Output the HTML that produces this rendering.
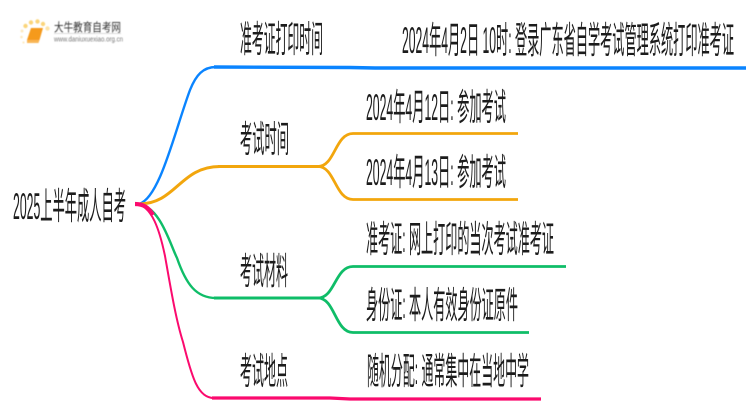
<!DOCTYPE html>
<html lang="zh">
<head>
<meta charset="utf-8">
<style>
html,body{margin:0;padding:0;background:#fff;width:750px;height:410px;overflow:hidden}
svg{display:block}
text{font-family:"Liberation Sans","Noto Sans CJK SC",sans-serif;fill:#1a1a1a}
</style>
</head>
<body>
<svg width="750" height="410" viewBox="0 0 750 410" xmlns="http://www.w3.org/2000/svg">
<rect width="750" height="410" fill="#fff"/>
<defs>
<filter id="b" x="-5%" y="-5%" width="110%" height="110%"><feGaussianBlur stdDeviation="0.35"/></filter>
<filter id="l" x="-5%" y="-5%" width="110%" height="110%"><feGaussianBlur stdDeviation="0.5"/></filter>
</defs>

<!-- logo -->
<g filter="url(#l)">
  <g fill="#fbd57a">
    <circle cx="47.5" cy="28.5" r="2.2" fill="#fde3a8"/>
    <circle cx="25.5" cy="26" r="2.2"/>
    <circle cx="31" cy="22.5" r="2.2"/>
    <circle cx="37.5" cy="21.5" r="2.2"/>
    <circle cx="43" cy="24" r="2.2"/>
    <circle cx="22" cy="31" r="1.5" fill="#fdeac0"/>
    <circle cx="21.5" cy="37" r="1.3" fill="#fdeac0"/>
    <circle cx="23.5" cy="42.5" r="1.1" fill="#fdeac0"/>
  </g>
  <path d="M31 28 L43 28 L39.5 40 L27 40 Z" fill="#f59a1b"/>
  <path d="M27 40 L39.5 40 L38.5 43 L27 43 Z" fill="#f9b655"/>
  <text x="54" y="31.5" font-size="12" textLength="67" lengthAdjust="spacingAndGlyphs" style="fill:#333">大牛教育自考网</text>
  <rect x="54" y="33" width="67" height="1" fill="#dcdcdc"/>
  <text x="54" y="41.5" font-size="7" textLength="69" lengthAdjust="spacingAndGlyphs" style="fill:#777">www.daniuxuexiao.org.cn</text>
</g>

<!-- connectors -->
<g fill="none" stroke-linecap="butt">
  <!-- blue -->
  <path d="M139 204 C160 198,175 130,190 90 C196 75,203 67,216 67" stroke="#0a84ff" stroke-width="2.4"/>
  <path d="M214 67 L350 67.5 L375 68 L746 68" stroke="#0a84ff" stroke-width="3.4"/>
  <!-- orange -->
  <path d="M139 204 C176 204,180 166.5,220 166.5" stroke="#f2a60d" stroke-width="3"/>
  <path d="M218 166.5 L320 166.5" stroke="#f2a60d" stroke-width="3"/>
  <path d="M318 166.5 C335 166.5,335 133.5,353 133.5 L518 133.5" stroke="#f2a60d" stroke-width="2.8"/>
  <path d="M318 166.5 C335 166.5,335 199.5,353 199.5 L518 199.5" stroke="#f2a60d" stroke-width="2.8"/>
  <!-- green -->
  <path d="M138 204 C160 206,170 244,177 258 C186 284,196 298,216 298" stroke="#0fbd68" stroke-width="2.4"/>
  <path d="M214 298 L320 298" stroke="#0fbd68" stroke-width="3"/>
  <path d="M318 298 C335 298,335 266.5,353 266.5 L566 266.5" stroke="#0fbd68" stroke-width="2.8"/>
  <path d="M318 298 C335 298,335 332.5,353 332.5 L529 332.5" stroke="#0fbd68" stroke-width="2.8"/>
  <!-- pink -->
  <path d="M135 204 C152 204,160 232,165 256 C171 290,176 320,183 342 C192 378,198 398,214 398" stroke="#fb0a6e" stroke-width="2"/>
  <path d="M212 398 L330 398 L350 399 L541 399" stroke="#fb0a6e" stroke-width="3.2"/>
  <path d="M135 204 C144 204,149 208,153 215" stroke="#fb0a6e" stroke-width="4.2"/>
</g>

<!-- labels -->
<g font-size="37" filter="url(#b)">
  <text x="13" y="219" textLength="113" lengthAdjust="spacingAndGlyphs">2025上半年成人自考</text>
  <text x="240" y="52" textLength="83" lengthAdjust="spacingAndGlyphs">准考证打印时间</text>
  <text x="402" y="53" textLength="332" lengthAdjust="spacingAndGlyphs">2024年4月2日 10时: 登录广东省自学考试管理系统打印准考证</text>
  <text x="240" y="152" textLength="49" lengthAdjust="spacingAndGlyphs">考试时间</text>
  <text x="366" y="120" textLength="140" lengthAdjust="spacingAndGlyphs">2024年4月12日: 参加考试</text>
  <text x="366" y="185" textLength="140" lengthAdjust="spacingAndGlyphs">2024年4月13日: 参加考试</text>
  <text x="240" y="284" textLength="48" lengthAdjust="spacingAndGlyphs">考试材料</text>
  <text x="366" y="252" textLength="188" lengthAdjust="spacingAndGlyphs">准考证: 网上打印的当次考试准考证</text>
  <text x="366" y="318" textLength="152" lengthAdjust="spacingAndGlyphs">身份证: 本人有效身份证原件</text>
  <text x="240" y="384" textLength="48" lengthAdjust="spacingAndGlyphs">考试地点</text>
  <text x="367" y="384" textLength="162" lengthAdjust="spacingAndGlyphs">随机分配: 通常集中在当地中学</text>
</g>
</svg>
</body>
</html>
